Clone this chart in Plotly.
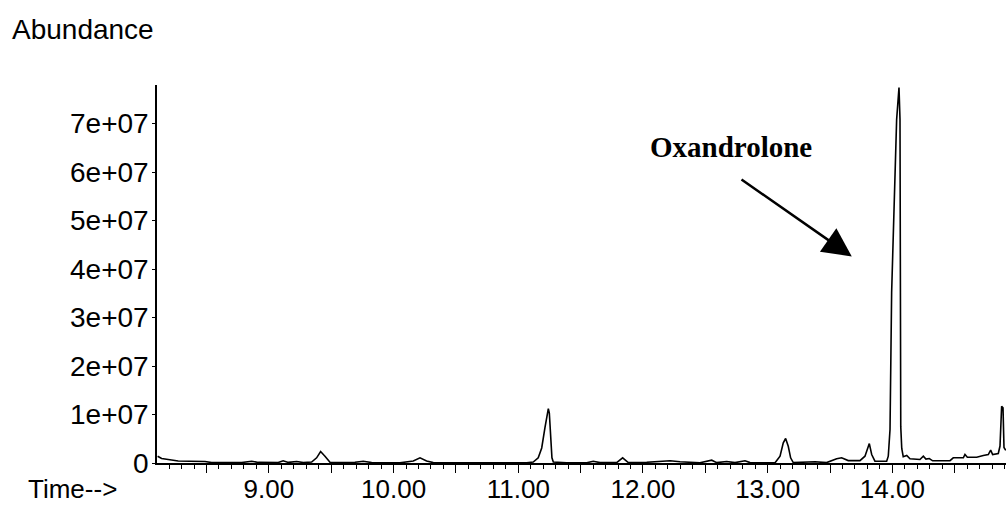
import plotly.graph_objects as go

# Retention time (min)
time_min = [8.108, 8.140, 8.193, 8.273, 8.367, 8.434, 8.488, 8.541, 8.782, 8.862,
            8.915, 9.075, 9.115, 9.156, 9.223, 9.276, 9.343, 9.383, 9.415, 9.450,
            9.490, 9.584, 9.690, 9.757, 9.824, 10.051, 10.158, 10.212, 10.265, 10.318,
            10.719, 10.800, 10.853, 11.067, 11.120, 11.160, 11.188, 11.214, 11.233, 11.241,
            11.249, 11.260, 11.270, 11.281, 11.388, 11.549, 11.601, 11.655, 11.789, 11.837,
            11.882, 12.030, 12.190, 12.217, 12.297, 12.457, 12.551, 12.591, 12.671, 12.738,
            12.818, 12.858, 13.059, 13.099, 13.125, 13.144, 13.165, 13.184, 13.205, 13.379,
            13.473, 13.553, 13.593, 13.646, 13.740, 13.780, 13.815, 13.834, 13.860, 13.954,
            13.967, 13.981, 13.994, 14.021, 14.034, 14.053, 14.061, 14.067, 14.075, 14.087,
            14.115, 14.141, 14.221, 14.248, 14.269, 14.296, 14.323, 14.462, 14.488, 14.569,
            14.582, 14.601, 14.676, 14.729, 14.769, 14.788, 14.804, 14.849, 14.863, 14.876,
            14.887, 14.895, 14.909]

# Abundance in units of 1e7
abundance_1e7 = [0.14, 0.093, 0.072, 0.04, 0.035, 0.04, 0.03, 0.01, 0.01, 0.037,
                 0.012, 0.01, 0.045, 0.012, 0.03, 0.01, 0.02, 0.107, 0.237, 0.14,
                 0.016, 0.01, 0.015, 0.037, 0.01, 0.005, 0.04, 0.107, 0.04, 0.008,
                 0.01, 0.02, 0.005, 0.005, 0.02, 0.107, 0.31, 0.73, 1.07, 1.12,
                 1.03, 0.59, 0.107, 0.02, 0.005, 0.005, 0.037, 0.008, 0.008, 0.107,
                 0.01, 0.015, 0.037, 0.045, 0.025, 0.005, 0.058, 0.008, 0.03, 0.008,
                 0.045, 0.008, 0.004, 0.14, 0.416, 0.505, 0.346, 0.107, 0.01, 0.025,
                 0.008, 0.087, 0.107, 0.05, 0.05, 0.14, 0.40, 0.175, 0.037, 0.037,
                 0.14, 0.69, 3.52, 6.26, 7.08, 7.74, 7.08, 0.75, 0.30, 0.13,
                 0.155, 0.087, 0.072, 0.14, 0.08, 0.093, 0.045, 0.05, 0.107, 0.107,
                 0.175, 0.12, 0.12, 0.155, 0.175, 0.265, 0.175, 0.196, 0.35, 1.17,
                 1.14, 0.32, 0.26]

x_major = [8.5, 9.0, 9.5, 10.0, 10.5, 11.0, 11.5, 12.0, 12.5, 13.0, 13.5, 14.0, 14.5]
x_major_text = ["", "9.00", "", "10.00", "", "11.00", "", "12.00", "", "13.00", "", "14.00", ""]
y_ticks_1e7 = [0, 1, 2, 3, 4, 5, 6, 7]
y_tick_text = ["0", "1e+07", "2e+07", "3e+07", "4e+07", "5e+07", "6e+07", "7e+07"]

peak_label = "Oxandrolone"
peak_label_pos = (12.702, 6.526)   # time, abundance 1e7
arrow_tail = (12.778, 5.866)
arrow_head = (13.674, 4.26)

E7 = 1e7
y_vals = [v * E7 for v in abundance_1e7]

fig = go.Figure()
fig.add_trace(go.Scatter(x=time_min, y=y_vals, mode="lines",
                         line=dict(color="black", width=1.6),
                         hoverinfo="skip", showlegend=False))

font_main = "Liberation Sans, Arial, sans-serif"

fig.update_layout(
    width=1006, height=505,
    margin=dict(l=157, r=0, t=85, b=41.5, autoexpand=False),
    paper_bgcolor="white", plot_bgcolor="white",
    font=dict(family=font_main, size=28, color="black"),
    xaxis=dict(
        range=[8.103, 14.911], automargin=False,
        tickvals=x_major, ticktext=x_major_text,
        ticks="outside", ticklen=8, tickwidth=1.2, tickcolor="black",
        minor=dict(dtick=0.1, tick0=8.0, ticks="outside", ticklen=4, tickwidth=1, tickcolor="black"),
        showline=True, linecolor="black", linewidth=1.5,
        showgrid=False, zeroline=False,
        tickfont=dict(size=26), ticklabelstandoff=-6,
    ),
    yaxis=dict(
        range=[0, 7.794 * E7], automargin=False,
        tickvals=[v * E7 for v in y_ticks_1e7], ticktext=y_tick_text,
        ticks="outside", ticklen=3, tickwidth=1, tickcolor="black",
        showline=True, linecolor="black", linewidth=1.5,
        showgrid=False, zeroline=False,
        tickfont=dict(size=28), ticklabelstandoff=-2,
    ),
)

fig.add_annotation(text="Abundance", xref="paper", yref="paper",
                   x=(10 - 157) / 849, y=1 + (85 - 30) / 378,
                   xanchor="left", yanchor="middle", showarrow=False,
                   font=dict(size=28, family=font_main))
fig.add_annotation(text="Time-->", xref="paper", yref="paper",
                   x=(26 - 157) / 849, y=-(489 - 463.5) / 378,
                   xanchor="left", yanchor="middle", showarrow=False,
                   font=dict(size=26, family=font_main))
fig.add_annotation(text="<b>" + peak_label + "</b>", x=peak_label_pos[0], y=peak_label_pos[1] * E7,
                   xref="x", yref="y", showarrow=False,
                   xanchor="center", yanchor="middle",
                   font=dict(size=29, family="Liberation Serif, Times New Roman, serif"))
fig.add_annotation(text="", x=arrow_head[0], y=arrow_head[1] * E7, xref="x", yref="y",
                   ax=arrow_tail[0], ay=arrow_tail[1] * E7, axref="x", ayref="y",
                   showarrow=True, arrowhead=2, arrowsize=2.3, arrowwidth=2.5,
                   arrowcolor="black", standoff=0)

# remove the page's default body margin so the 1006x505 figure fills the window exactly
fig.write_html("out.html", config={"displayModeBar": False},
               post_script="document.body.style.margin='0';document.documentElement.style.overflow='hidden';")
